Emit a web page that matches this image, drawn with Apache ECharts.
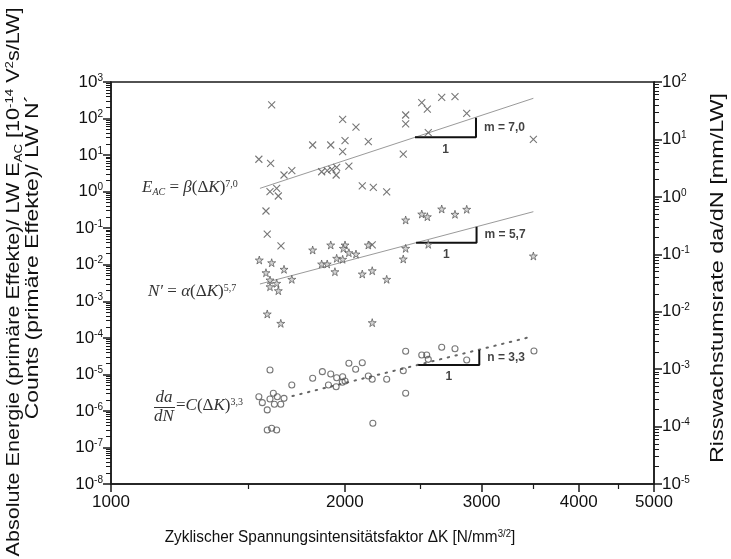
<!DOCTYPE html>
<html><head><meta charset="utf-8">
<script src="https://cdn.jsdelivr.net/npm/echarts@6/dist/echarts.min.js"></script>
<style>html,body{margin:0;padding:0;background:#fff}#c{width:731px;height:559px}</style>
</head><body><div id="c"></div>
<script>
// ---- data ----
const xTicks = [1000, 2000, 3000, 4000, 5000];
const xMinorTicks = [1500, 2500, 3500, 4500];
const leftRange = [-8, 3];    // decades, 10^-8 .. 10^3
const rightRange = [-5, 2];   // decades, 10^-5 .. 10^2

// Absolute energy E_AC (crosses)
const energyK = [1610,1987,2067,1818,1918,2001,2144,1987,1550,1605,1670,1709,1867,1898,1924,1952,1949,2024,1602,1634,1642,2106,2176,1583,1589,1655,2169,2665,2772,2512,2554,2395,2395,2870,2561,3497,2378,2264];
const energyVal = [235,95,58,18.9,18.9,24.8,23.2,12.4,7.7,5.96,2.85,3.74,3.5,3.74,4.08,4.63,2.85,5.0,1.0,1.23,0.76,1.43,1.31,0.295,0.069,0.033,0.0347,381,396,272,182,125,71,139,41,27,10.7,0.98];

// Counts N' (stars)
const countK = [1552,1610,1583,1670,1818,1918,2001,1991,2024,2067,2144,1867,1898,1952,1987,1942,2106,2169,1602,1634,1709,1602,1642,1589,1654,2169,2395,2512,2554,2665,2772,2870,2395,2378,2561,3497,2264];
const countVal = [0.01346,0.01135,0.00605,0.0075,0.0253,0.0347,0.0347,0.0281,0.0213,0.0196,0.0347,0.01047,0.01047,0.015,0.0141,0.00644,0.00557,0.00686,0.00382,0.0031,0.00399,0.0025,0.00195,0.000449,0.000249,0.00026,0.1675,0.244,0.206,0.335,0.24,0.329,0.0281,0.01435,0.0362,0.01734,0.00399];

// Crack growth rate da/dN (circles, right axis)
const rateK = [1602,1709,1818,1871,1918,1952,1987,1905,1949,1985,2001,2024,2065,2106,2144,2169,1550,1566,1618,1602,1637,1670,1589,1623,1654,1589,1610,1634,2173,2264,2378,2395,2395,2512,2549,2561,2665,2772,2870,3503];
const rateVal = [9.66e-4,5.3e-4,6.93e-4,9.04e-4,8.24e-4,7.1e-4,7.39e-4,5.3e-4,4.95e-4,5.9e-4,6.22e-4,1.265e-3,9.93e-4,1.294e-3,7.6e-4,6.65e-4,3.31e-4,2.61e-4,3.8e-4,3.02e-4,3.31e-4,3.1e-4,1.95e-4,2.44e-4,2.44e-4,8.7e-5,9.33e-5,8.7e-5,1.14e-4,6.65e-4,9.4e-4,2.05e-3,3.8e-4,1.76e-3,1.76e-3,1.48e-3,2.4e-3,2.27e-3,1.44e-3,2.07e-3];

// fit lines
const energyFitK = [1555, 3497], energyFitVal = [1.23, 358];
const countFitK = [1555, 3497], countFitVal = [0.00297, 0.2825];
const rateFitK = [1712, 3435], rateFitVal = [3.4e-4, 3.53e-3];

// slope triangles: [K start, K end], [low value, high value]
const slopeTriK = [[2462, 2950], [2470, 2955], [2486, 2979]];
const slopeTriVal = [[30.7, 105], [0.0401, 0.11], [1.18e-3, 2.15e-3]];
const slopeTriAxis = [0, 0, 2];
const slopeLabels = ['m = 7,0', 'm = 5,7', 'n = 3,3'];

// ---- build ----
const L = Math.log10;
const pts = (ks, vs) => ks.map((k, i) => [L(k), L(vs[i])]);
function minorPos(lo, hi) { const o = []; for (let e = lo; e < hi; e++) for (let m = 2; m <= 9; m++) o.push(e + L(m)); return o; }
const FONT = 'Liberation Sans';
const SERIF = 'Liberation Serif';
const AX = '#1a1a1a';
const xMin = L(xTicks[0]), xMax = L(xTicks[xTicks.length - 1]);

function yMain(range, pos) {
  return {
    type: 'value', position: pos, min: range[0], max: range[1], interval: 1,
    axisLine: { show: true, onZero: false, lineStyle: { color: AX, width: 1.5 } },
    axisTick: { show: true, length: 8, lineStyle: { color: AX, width: 1.5 } },
    axisLabel: {
      margin: 8, color: '#111', fontSize: 17, fontFamily: FONT, lineHeight: 18,
      formatter: v => '10{s|' + Math.round(v) + '}',
      rich: { s: { fontSize: 10, fontFamily: FONT, color: '#111', verticalAlign: 'top', lineHeight: 10 } }
    },
    splitLine: { show: false }
  };
}
function yMinor(range, pos) {
  const mv = minorPos(range[0], range[1]);
  return {
    type: 'value', position: pos, min: range[0], max: range[1],
    axisLine: { show: false, onZero: false },
    axisTick: { show: true, length: 5, customValues: mv, lineStyle: { color: AX, width: 1 } },
    axisLabel: { show: true, customValues: mv, formatter: () => '' }, splitLine: { show: false }
  };
}

const series = [];
const lineS = (data, yIdx, style) => ({ type: 'line', xAxisIndex: 0, yAxisIndex: yIdx, data, symbol: 'none', silent: true, lineStyle: style, z: 2 });
series.push(lineS(pts(energyFitK, energyFitVal), 0, { color: '#9a9a9a', width: 1 }));
series.push(lineS(pts(countFitK, countFitVal), 0, { color: '#9a9a9a', width: 1 }));
series.push(lineS(pts(rateFitK, rateFitVal), 2, { color: '#666', width: 2, type: [1.5, 6.5], cap: 'round' }));

series.push({ type: 'scatter', xAxisIndex: 0, yAxisIndex: 0, data: pts(energyK, energyVal), z: 3,
  symbol: 'path://M0,0L10,10M10,0L0,10', symbolSize: 7,
  itemStyle: { color: 'none', borderColor: '#555', borderWidth: 1.1 } });
series.push({ type: 'scatter', xAxisIndex: 0, yAxisIndex: 0, data: pts(countK, countVal), z: 3,
  symbol: 'path://M50,0L61,35L98,35L68,57L79,91L50,70L21,91L32,57L2,35L39,35Z', symbolSize: 8,
  itemStyle: { color: '#c8c8c8', borderColor: '#555', borderWidth: 0.9 } });
series.push({ type: 'scatter', xAxisIndex: 0, yAxisIndex: 2, data: pts(rateK, rateVal), z: 3,
  symbol: 'circle', symbolSize: 6,
  itemStyle: { color: 'rgba(255,255,255,0)', borderColor: '#555', borderWidth: 1.1 } });

slopeTriK.forEach((ks, i) => {
  const vs = slopeTriVal[i];
  series.push(lineS([[L(ks[0]), L(vs[0])], [L(ks[1]), L(vs[0])], [L(ks[1]), L(vs[1])]], slopeTriAxis[i], { color: '#111', width: 2 }));
  series.push({ type: 'scatter', xAxisIndex: 0, yAxisIndex: slopeTriAxis[i], symbolSize: 0, silent: true, z: 4,
    data: [
      { value: [L(ks[1]), (L(vs[0]) + L(vs[1])) / 2], label: { show: true, position: 'right', distance: 8, formatter: slopeLabels[i] } },
      { value: [(L(ks[0]) + L(ks[1])) / 2, L(vs[0])], label: { show: true, position: 'bottom', distance: 6, formatter: '1' } }
    ],
    label: { color: '#111', fontSize: 12, fontWeight: 'bold', fontFamily: FONT } });
});

const sty = (size, italic, extra) => Object.assign({ fontSize: size, fontFamily: SERIF, fontStyle: italic ? 'italic' : 'normal', fill: '#333', lineHeight: 18 }, extra || {});
const eqRich = {
  i: sty(17, true), r: sty(17, false),
  sub: sty(10, true, { verticalAlign: 'bottom', lineHeight: 8 }),
  sup: sty(10, false, { verticalAlign: 'top', lineHeight: 9 })
};
const nameRich = s => ({
  b: { fontSize: s, fontFamily: FONT, fill: '#111', lineHeight: s + 2 },
  sub: { fontSize: Math.round(s * 0.62), fontFamily: FONT, fill: '#111', verticalAlign: 'bottom', lineHeight: Math.round(s * 0.55) },
  sup: { fontSize: Math.round(s * 0.62), fontFamily: FONT, fill: '#111', verticalAlign: 'top', lineHeight: Math.round(s * 0.62) }
});
const eqText = (x, y, text, align) => ({ type: 'text', x, y, style: { text, rich: eqRich, align: align || 'left', verticalAlign: 'middle' } });

const graphic = [
  eqText(142, 188, '{i|E}{sub|AC}{r| = }{i|β}{r|(Δ}{i|K}{r|)}{sup|7,0}'),
  eqText(148, 292, '{i|N′}{r| = }{i|α}{r|(Δ}{i|K}{r|)}{sup|5,7}'),
  eqText(164, 398, '{i|da}', 'center'),
  eqText(164, 417, '{i|dN}', 'center'),
  { type: 'line', shape: { x1: 154, y1: 407.5, x2: 175, y2: 407.5 }, style: { stroke: '#333', lineWidth: 1 } },
  eqText(176, 406, '{r|=}{i|C}{r|(Δ}{i|K}{r|)}{sup|3,3}'),
  { type: 'text', x: 14, y: 282, rotation: Math.PI / 2, scaleX: 1.2, style: { text: '{b|Absolute Energie (primäre Effekte)/ LW E}{sub|AC}{b| [10}{sup|-14}{b| V}{sup|2}{b|s/LW]}', rich: nameRich(18), align: 'center', verticalAlign: 'middle' } },
  { type: 'text', x: 33, y: 257, rotation: Math.PI / 2, scaleX: 1.27, style: { text: '{b|Counts (primäre Effekte)/ LW N´}', rich: nameRich(18), align: 'center', verticalAlign: 'middle' } },
  { type: 'text', x: 718, y: 278, rotation: Math.PI / 2, scaleX: 1.3, style: { text: '{b|Risswachstumsrate da/dN [mm/LW]}', rich: nameRich(18), align: 'center', verticalAlign: 'middle' } },
  { type: 'text', x: 340, y: 538, scaleX: 0.96, style: { text: '{b|Zyklischer Spannungsintensitätsfaktor ΔK [N/mm}{sup|3/2}{b|]}', rich: nameRich(16), align: 'center', verticalAlign: 'middle' } }
];

const chart = echarts.init(document.getElementById('c'), null, { renderer: 'canvas' });
chart.setOption({
  animation: false,
  backgroundColor: '#fff',
  grid: { left: 111, right: 77, top: 82, bottom: 75, show: true, borderColor: AX, borderWidth: 1.5, backgroundColor: 'transparent' },
  xAxis: [
    { type: 'value', position: 'bottom', min: xMin, max: xMax,
      axisLine: { show: true, onZero: false, lineStyle: { color: AX, width: 1.5 } },
      axisTick: { show: true, length: 8, customValues: xTicks.map(L), lineStyle: { color: AX, width: 1.5 } },
      axisLabel: { customValues: xTicks.map(L), formatter: v => String(Math.round(Math.pow(10, v))), margin: 10, fontSize: 17, fontFamily: FONT, color: '#111' },
      splitLine: { show: false } },
    { type: 'value', position: 'bottom', min: xMin, max: xMax,
      axisLine: { show: false, onZero: false },
      axisTick: { show: true, length: 5, customValues: xMinorTicks.map(L), lineStyle: { color: AX, width: 1.2 } },
      axisLabel: { show: true, customValues: xMinorTicks.map(L), formatter: () => '' }, splitLine: { show: false } }
  ],
  yAxis: [yMain(leftRange, 'left'), yMinor(leftRange, 'left'), yMain(rightRange, 'right'), yMinor(rightRange, 'right')],
  series,
  graphic
});
</script></body></html>
